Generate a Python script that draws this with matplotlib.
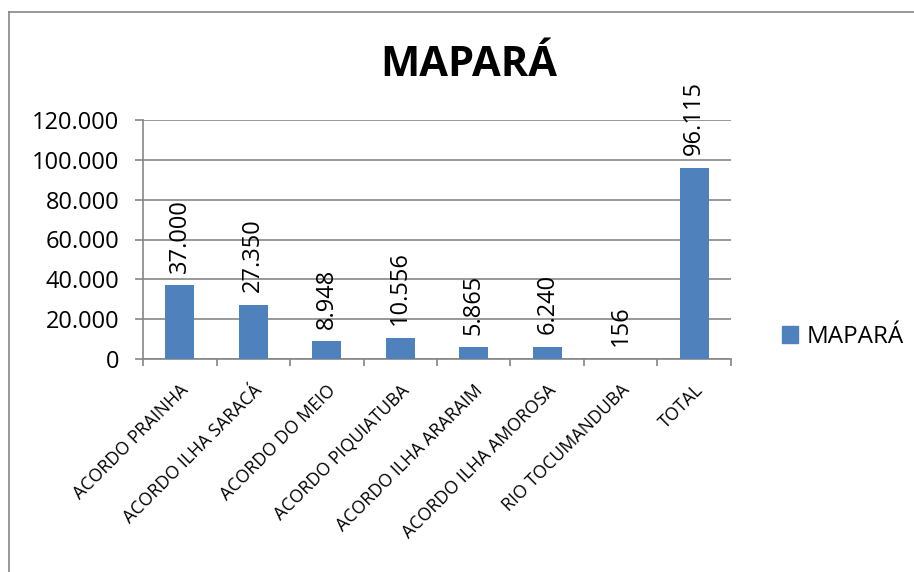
import matplotlib.pyplot as plt
from matplotlib.lines import Line2D
from matplotlib.patches import Patch

categories = ["ACORDO PRAINHA", "ACORDO ILHA SARACÁ", "ACORDO DO MEIO",
              "ACORDO PIQUIATUBA", "ACORDO ILHA ARARAIM", "ACORDO ILHA AMOROSA",
              "RIO TOCUMANDUBA", "TOTAL"]
values = [37000, 27350, 8948, 10556, 5865, 6240, 156, 96115]
yticks = [0, 20000, 40000, 60000, 80000, 100000, 120000]

def br(v):
    return f"{v:,.0f}".replace(",", ".")

plt.rcParams['font.family'] = ['Open Sans', 'DejaVu Sans']
blue = '#4F81BD'
grid = '#868686'

fig = plt.figure(figsize=(9.14, 5.72), dpi=100)
ax = fig.add_axes([143/914, 1-359/572, (731-143)/914, (359-120)/572])

x = range(len(categories))
ax.bar(x, values, width=0.4, color=blue, zorder=3)

# data labels
for i, v in enumerate(values):
    ax.annotate(br(v), (i, v), xytext=(0, 9), textcoords='offset points',
                rotation=90, ha='center', va='bottom', fontsize=17, zorder=4)

ax.set_ylim(0, 120000)
ax.set_xlim(-0.5, len(categories) - 0.5)
ax.set_yticks(yticks)
ax.set_yticklabels([br(v) for v in yticks], fontsize=17)
ax.yaxis.grid(True, color=grid, linewidth=1.2, zorder=0)

ax.set_xticks(list(x))
ax.set_xticklabels(categories, rotation=45, ha='right', rotation_mode='anchor', fontsize=12.8)
ax.set_xticks([i - 0.5 for i in range(len(categories) + 1)], minor=True)
ax.tick_params(axis='x', which='major', length=0, pad=16)
ax.tick_params(axis='x', which='minor', length=5, color=grid, width=1.2)
ax.tick_params(axis='y', length=6, color=grid, width=1.2, pad=11)

for s in ['top', 'right']:
    ax.spines[s].set_visible(False)
for s in ['left', 'bottom']:
    ax.spines[s].set_color(grid)
    ax.spines[s].set_linewidth(1.2)

fig.text(469/914, 1-65/572, "MAPARÁ", fontsize=30, fontweight='bold',
         ha='center', va='center')

fig.legend(handles=[Patch(color=blue, label="MAPARÁ")], loc='center left',
           bbox_to_anchor=(760/914, 1-337/572), frameon=False, fontsize=17.5,
           handlelength=0.65, handleheight=0.65, handletextpad=0.35)

# chart frame (left and top edges visible)
fig.add_artist(Line2D([9/914, 9/914], [0, 1-12/572], color=grid, lw=1.2, transform=fig.transFigure))
fig.add_artist(Line2D([9/914, 1], [1-12/572, 1-12/572], color=grid, lw=1.2, transform=fig.transFigure))

fig.savefig("out.png", dpi=100)
